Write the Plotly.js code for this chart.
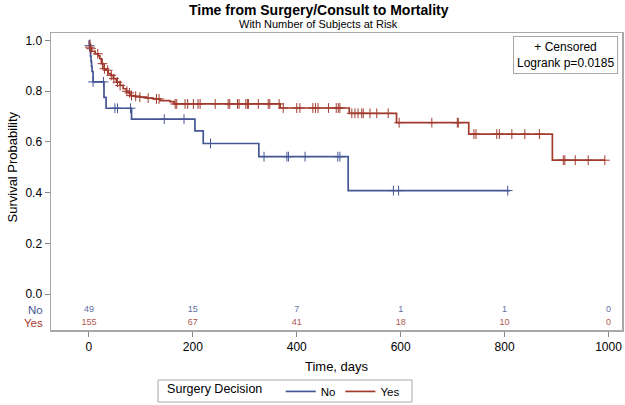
<!DOCTYPE html>
<html>
<head>
<meta charset="utf-8">
<script src="https://cdn.plot.ly/plotly-3.0.1.min.js"></script>
<style>html,body{margin:0;padding:0;background:#fff;}#chart{width:625px;height:405px;}</style>
</head>
<body>
<div id="chart"></div>
<script>
// ---- Data ----
var groups = ["No", "Yes"];
var colors = ["#445694", "#A23A2E"];

// Kaplan-Meier step points: time (days) and survival probability after the step
var noTimes = [0, 1, 2, 3, 4, 5, 6, 8, 29, 33, 82, 204, 220, 327, 499];
var noSurv  = [1.0, 0.98, 0.959, 0.939, 0.918, 0.898, 0.878, 0.837, 0.776, 0.733, 0.69, 0.644, 0.594, 0.542, 0.408];
var noEnd = 810;
var noCensor = [1, 8, 28, 50, 55, 80, 145, 183, 234, 337, 381, 384, 416, 479, 483, 586, 596, 806];

var yesTimes = [0, 1, 2, 3, 5, 12, 18, 21, 24, 27, 33, 37, 42, 47, 53, 60, 66, 72, 76, 79, 88, 98, 111, 124, 137, 156, 164, 368, 501, 592, 731, 892];
var yesSurv  = [1.0, 0.987, 0.974, 0.968, 0.958, 0.948, 0.94, 0.929, 0.909, 0.889, 0.883, 0.87, 0.863, 0.85, 0.836, 0.823, 0.81, 0.8, 0.794, 0.783, 0.78, 0.777, 0.773, 0.77, 0.763, 0.759, 0.75, 0.734, 0.713, 0.676, 0.631, 0.528];
var yesEnd = 993;
var yesCensor = [2, 4, 17, 26, 30, 36, 43, 48, 55, 60, 73, 78, 82, 90, 98, 114, 130, 135,
  166, 169, 185, 190, 201, 210, 214, 243, 268, 271, 286, 289, 302, 305, 307, 326, 345, 348, 366,
  374, 400, 406, 431, 436, 441, 461, 476, 480, 483,
  506, 512, 518, 525, 528, 541, 554, 576,
  597, 660, 709, 711,
  741, 745, 785, 790, 814, 839, 867,
  913, 916, 936, 961, 993];

// Number at risk
var riskTimes = [0, 200, 400, 600, 800, 1000];
var riskNo  = [49, 15, 7, 1, 1, 0];
var riskYes = [155, 67, 41, 18, 10, 0];

var xTicks = [0, 200, 400, 600, 800, 1000];
var yTicks = [0, 0.2, 0.4, 0.6, 0.8, 1.0];
var yTickText = ["0.0", "0.2", "0.4", "0.6", "0.8", "1.0"];

// ---- helpers ----
function stepAt(times, surv, t) {
  var v = surv[0];
  for (var i = 0; i < times.length; i++) { if (times[i] <= t) v = surv[i]; }
  return v;
}
function curve(times, surv, end) {
  return { x: times.concat([end]), y: surv.concat([surv[surv.length - 1]]) };
}

var FONT = "Arial, 'Liberation Sans', sans-serif";
var traces = [];
var sets = [
  {t: noTimes, s: noSurv, e: noEnd, c: noCensor},
  {t: yesTimes, s: yesSurv, e: yesEnd, c: yesCensor}
];
sets.forEach(function (d, i) {
  var cv = curve(d.t, d.s, d.e);
  traces.push({
    type: "scatter", mode: "lines", name: groups[i],
    x: cv.x, y: cv.y, line: {shape: "hv", color: colors[i], width: 1.7},
    hoverinfo: "skip"
  });
});
sets.forEach(function (d, i) {
  traces.push({
    type: "scatter", mode: "markers", showlegend: false,
    x: d.c, y: d.c.map(function (t) { return stepAt(d.t, d.s, t); }),
    marker: {symbol: "cross-thin", size: 7, color: colors[i], line: {width: 1, color: colors[i]}},
    hoverinfo: "skip"
  });
});
var riskRows = [riskNo, riskYes];
var riskY = [-0.063, -0.114];
riskRows.forEach(function (r, i) {
  traces.push({
    type: "scatter", mode: "text", showlegend: false, cliponaxis: false,
    x: riskTimes, y: riskTimes.map(function () { return riskY[i]; }),
    text: r.map(String),
    textfont: {family: FONT, size: 9, color: colors[i]},
    opacity: 0.85,
    hoverinfo: "skip"
  });
});

var annotations = [
  {xref: "paper", yref: "paper", x: (318 - 51) / 571, y: (330 - 24) / 297, xanchor: "center", yanchor: "middle",
   text: "With Number of Subjects at Risk", showarrow: false, font: {family: FONT, size: 11, color: "#000"}},
  {xref: "paper", yref: "y", x: -0.068, y: 0.5, xanchor: "center", yanchor: "middle", textangle: -90,
   text: "Survival Probability", showarrow: false, font: {family: FONT, size: 13, color: "#000"}},
  {xref: "paper", yref: "paper", x: 1, y: 1, xanchor: "right", yanchor: "top", xshift: -4, yshift: -3,
   text: "+ Censored<br>Logrank p=0.0185", showarrow: false, align: "center",
   bordercolor: "#A8A8A8", borderwidth: 1, borderpad: 3, bgcolor: "#fff",
   font: {family: FONT, size: 12, color: "#000"}}
];
groups.forEach(function (g, i) {
  annotations.push({xref: "paper", yref: "y", x: -0.012, y: riskY[i], xanchor: "right", yanchor: "middle",
    text: g, showarrow: false, borderpad: 0, font: {family: FONT, size: 11.5, color: colors[i]}});
});

// frame around the legend (pixel box converted to paper units)
var PW = 571, PH = 297;
var shapes = [{
  type: "rect", xref: "paper", yref: "paper", layer: "above",
  x0: (158 - 51) / PW, x1: (412 - 51) / PW, y0: (330 - 402) / PH, y1: (330 - 380) / PH,
  line: {color: "#A8A8A8", width: 1}, fillcolor: "rgba(0,0,0,0)"
}];

var layout = {
  width: 625, height: 405,
  margin: {l: 51, r: 3, t: 33, b: 75, autoexpand: false},
  paper_bgcolor: "#fff", plot_bgcolor: "#fff",
  font: {family: FONT, color: "#000"},
  title: {text: "<b>Time from Surgery/Consult to Mortality</b>", x: 0.51, xanchor: "center",
          y: 1 - 10 / 405, yanchor: "middle", font: {family: FONT, size: 14, color: "#000"}},
  xaxis: {
    range: [-73, 1026], tickvals: xTicks, ticks: "outside", ticklen: 5, tickcolor: "#888",
    showline: true, mirror: true, linecolor: "#A8A8A8", linewidth: 1.5,
    showgrid: false, zeroline: false, tickfont: {family: FONT, size: 12},
    title: {text: "Time, days", font: {family: FONT, size: 13}, standoff: 9}
  },
  yaxis: {
    range: [-0.142, 1.03], tickvals: yTicks, ticktext: yTickText, ticks: "outside", ticklen: 5, tickcolor: "#888",
    showline: true, mirror: true, linecolor: "#A8A8A8", linewidth: 1.5,
    showgrid: false, zeroline: false, tickfont: {family: FONT, size: 12}
  },
  showlegend: true,
  legend: {
    orientation: "h", x: 0.41, xanchor: "center", y: -0.158, yanchor: "top",
    title: {text: "Surgery Decision   ", font: {family: FONT, size: 12.5}},
    font: {family: FONT, size: 11.5}, borderwidth: 0, bgcolor: "rgba(0,0,0,0)",
    tracegroupgap: 0
  },
  shapes: shapes,
  annotations: annotations
};

Plotly.newPlot("chart", traces, layout, {staticPlot: true, displayModeBar: false});
</script>
</body>
</html>
